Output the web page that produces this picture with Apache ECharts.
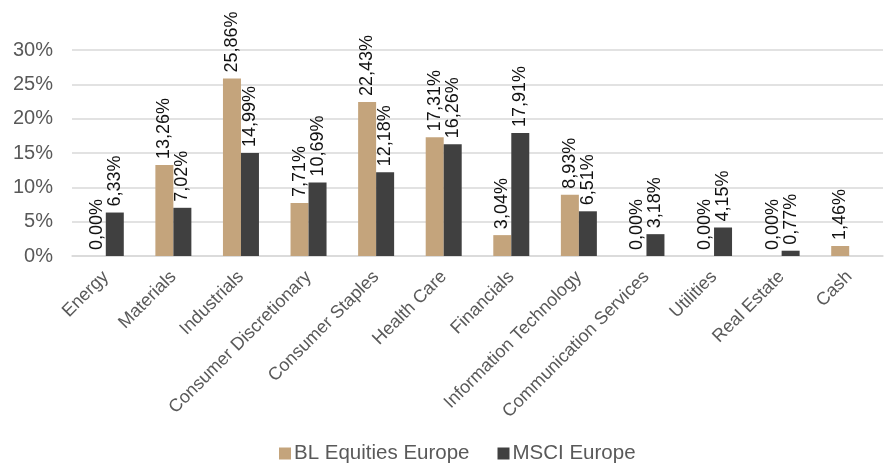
<!DOCTYPE html>
<html><head><meta charset="utf-8">
<script src="https://cdn.jsdelivr.net/npm/echarts@6/dist/echarts.min.js"></script>
<style>html,body{margin:0;padding:0;background:#fff}#c{width:888px;height:470px}</style>
</head><body><div id="c"></div>
<script>
const categories = ["Energy","Materials","Industrials","Consumer Discretionary","Consumer Staples","Health Care","Financials","Information Technology","Communication Services","Utilities","Real Estate","Cash"];
const blEquities = [0.00,13.26,25.86,7.71,22.43,17.31,3.04,8.93,0.00,0.00,0.00,1.46];
const msciEurope = [6.33,7.02,14.99,10.69,12.18,16.26,17.91,6.51,3.18,4.15,0.77,null];
const yTicks = [0,5,10,15,20,25,30];

const fmt = v => v.toFixed(2).replace('.', ',') + '%';
const lbl = {
  show: true, position: 'top', rotate: 90, align: 'left', verticalAlign: 'middle',
  distance: 6, fontFamily: 'Liberation Sans, Arial', fontSize: 18, color: '#111',
  formatter: p => p.value == null ? '' : fmt(p.value)
};
const chart = echarts.init(document.getElementById('c'));
chart.setOption({
  animation: false,
  grid: {left: 72, right: 5, top: 50, bottom: 214},
  legend: {
    bottom: 1, left: 274, itemWidth: 12, itemHeight: 12, itemGap: 28,
    textStyle: {fontFamily: 'Liberation Sans, Arial', fontSize: 20.5, color: '#595959', padding: [0, 0, 0, -2]},
    data: ['BL Equities Europe', 'MSCI Europe'], icon: 'rect'
  },
  xAxis: {
    type: 'category', data: categories,
    axisLine: {lineStyle: {color: '#d9d9d9', width: 1.5}},
    axisTick: {show: false},
    axisLabel: {rotate: 45, interval: 0, fontFamily: 'Liberation Sans, Arial', fontSize: 18, color: '#595959', margin: 18}
  },
  yAxis: {
    type: 'value', min: yTicks[0], max: yTicks[yTicks.length-1], interval: 5,
    axisLine: {show: false}, axisTick: {show: false},
    splitLine: {lineStyle: {color: '#d9d9d9', width: 1.5}},
    axisLabel: {formatter: v => v + '%', fontFamily: 'Liberation Sans, Arial', fontSize: 20, color: '#595959', margin: 19}
  },
  series: [
    {name: 'BL Equities Europe', type: 'bar', data: blEquities, barWidth: 18, barGap: '0%',
     itemStyle: {color: '#c4a47c'}, label: lbl},
    {name: 'MSCI Europe', type: 'bar', data: msciEurope, barWidth: 18,
     itemStyle: {color: '#404040'}, label: lbl}
  ]
});
</script></body></html>
